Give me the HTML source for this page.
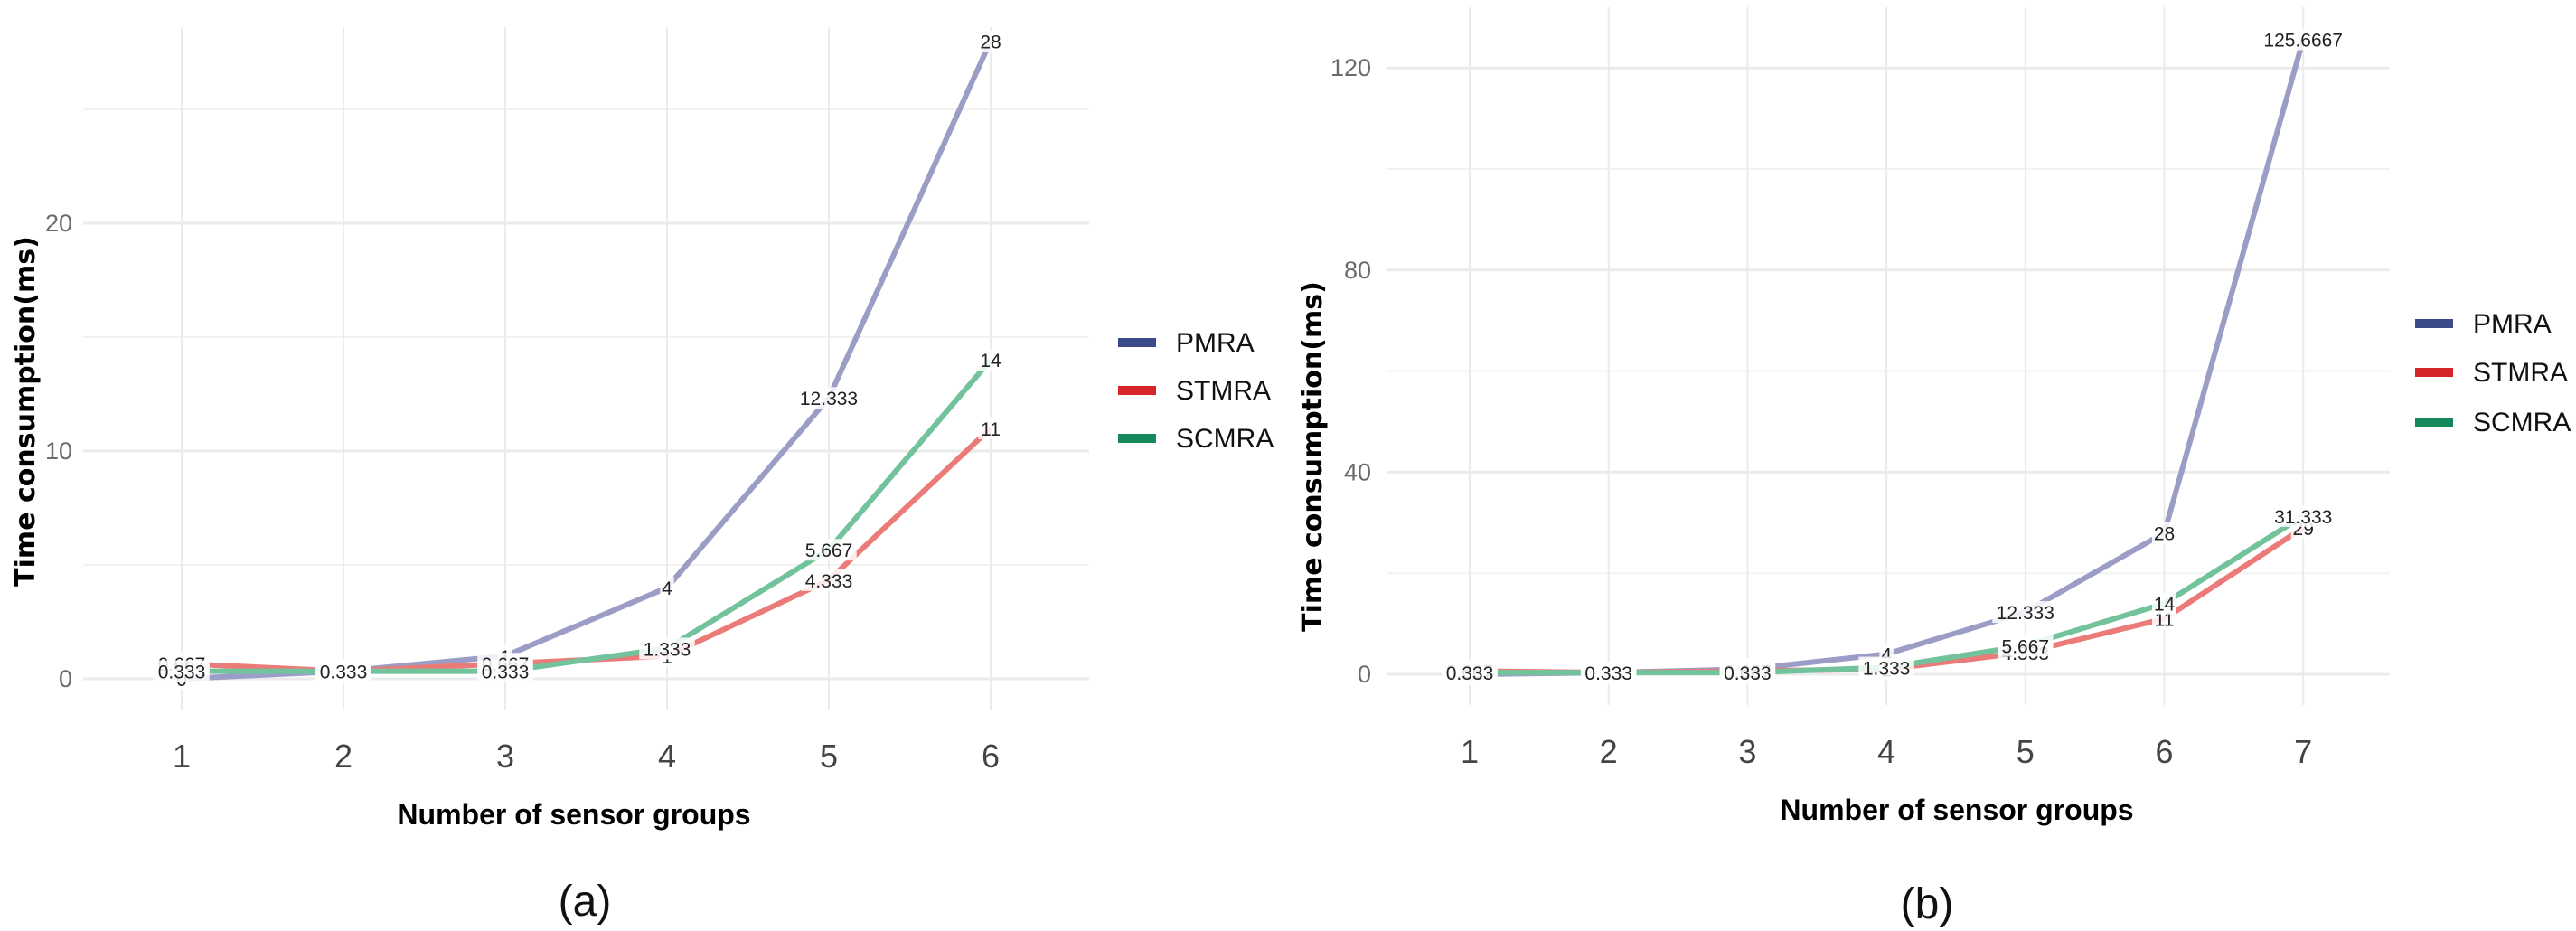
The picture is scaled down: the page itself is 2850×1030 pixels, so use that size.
<!DOCTYPE html>
<html><head><meta charset="utf-8">
<style>
html,body{margin:0;padding:0;background:#fff;}
svg{display:block;}
</style></head>
<body>
<svg id="fig" width="2850" height="1030" viewBox="0 0 2850 1030" xmlns="http://www.w3.org/2000/svg"></svg>
<script>
// ---- Chart (a) data ----
const catsA = [1,2,3,4,5,6];
const pmraA = [0,0.333,1,4,12.333,28];
const stmraA = [0.667,0.333,0.667,1,4.333,11];
const scmraA = [0.333,0.333,0.333,1.333,5.667,14];
const yTicksA = [0,10,20];
const yMinorA = [5,15,25];
// ---- Chart (b) data ----
const catsB = [1,2,3,4,5,6,7];
const pmraB = [0,0.333,1,4,12.333,28,125.6667];
const stmraB = [0.667,0.333,0.667,1,4.333,11,29];
const scmraB = [0.333,0.333,0.333,1.333,5.667,14,31.333];
const yTicksB = [0,40,80,120];
const yMinorB = [20,60,100];
const seriesNames = ["PMRA","STMRA","SCMRA"];

const NS="http://www.w3.org/2000/svg";
const svg=document.getElementById('fig');
function mk(tag,attrs,parent){const e=document.createElementNS(NS,tag);for(const k in attrs)e.setAttribute(k,attrs[k]);(parent||svg).appendChild(e);return e;}
function fmt(v){return String(v);}

const lineCols=["#9b9dc6","#ea7b78","#72c29c"];
const keyCols=["#3b4b8a","#d6262c","#16875a"];

function drawChart(cfg){
  const g=mk('g',{});
  
  
  const xS=v=>cfg.x0+(v-cfg.cats[0])*cfg.dx;
  const yS=v=>cfg.y0-v*cfg.py;
  cfg.minor.forEach(t=>{const l=mk('line',{x1:cfg.gl,x2:cfg.gr,y1:yS(t),y2:yS(t),stroke:'#f2f2f2','stroke-width':2},g);
    });
  cfg.ticks.forEach(t=>{const l=mk('line',{x1:cfg.gl,x2:cfg.gr,y1:yS(t),y2:yS(t),stroke:'#ebebeb','stroke-width':3},g);
    
    const tx=mk('text',{x:cfg.tickX,y:yS(t)+9,'text-anchor':'end','font-family':'Liberation Sans Narrow, Liberation Sans, sans-serif','font-size':27,fill:'#6b6b6b'},g);
    tx.textContent=t;});
  cfg.cats.forEach(c=>{const l=mk('line',{x1:xS(c),x2:xS(c),y1:cfg.gt,y2:cfg.gb,stroke:'#ebebeb','stroke-width':2},g);
    
    const tx=mk('text',{x:xS(c),y:cfg.xTickY+12,'text-anchor':'middle','font-family':'Liberation Sans Narrow, Liberation Sans, sans-serif','font-size':36,fill:'#444'},g);
    tx.textContent=c;});
  cfg.series.forEach((s,i)=>{
    const d=s.map((v,j)=>(j?'L':'M')+xS(cfg.cats[j]).toFixed(1)+','+yS(v).toFixed(1)).join(' ');
    const p=mk('path',{d:d,fill:'none',stroke:lineCols[i],'stroke-width':6,'stroke-linejoin':'round'},g);
    
  });
  cfg.series.forEach((s,i)=>{
    s.forEach((v,j)=>{
      const x=xS(cfg.cats[j]),y=yS(v);const t=fmt(v);const w=t.length*11.5+4;
      const r=mk('rect',{x:x-w/2,y:y-12,width:w,height:24,fill:'#fff','fill-opacity':0.85},g);
      
      const tx=mk('text',{x:x,y:y+8,'text-anchor':'middle','font-family':'Liberation Sans, sans-serif','font-size':21,fill:'#222'},g);
      tx.textContent=t;
    });
  });
  const yt=mk('text',{x:0,y:0,transform:`translate(${cfg.yTitleX},${cfg.yTitleY}) rotate(-90)`,'text-anchor':'middle','font-family':'DejaVu Sans, Liberation Sans, sans-serif','font-weight':'bold','font-size':30,fill:'#000'},g);
  yt.textContent='Time consumption(ms)';
  const xt=mk('text',{x:cfg.xTitleX,y:cfg.xTitleY+10,'text-anchor':'middle','font-family':'Liberation Sans Narrow, Liberation Sans, sans-serif','font-weight':'bold','font-size':32,fill:'#000'},g);
  xt.textContent='Number of sensor groups';
  const cap=mk('text',{x:cfg.capX,y:cfg.capY+16,'text-anchor':'middle','font-family':'Liberation Sans, sans-serif','font-size':48,fill:'#111'},g);
  cap.textContent=cfg.cap;
  seriesNames.forEach((n,i)=>{
    const y=cfg.legY[i];
    const k=mk('rect',{x:cfg.legX,y:y-5,width:42,height:10,fill:keyCols[i]},g);
    
    const tx=mk('text',{x:cfg.legX+64,y:y+10,'font-family':'Liberation Sans Narrow, Liberation Sans, sans-serif','font-size':30,fill:'#111'},g);
    tx.textContent=n;
  });
}

drawChart({name:'chart-a',cats:catsA,series:[pmraA,stmraA,scmraA],ticks:yTicksA,minor:yMinorA,
  x0:201,dx:179,y0:751,py:25.2,gl:92,gr:1205,gt:30,gb:785,tickX:80,xTickY:837,
  yTitleX:38,yTitleY:455,xTitleX:635,xTitleY:902,capX:647,capY:997,cap:'(a)',
  legX:1237,legY:[379,432,485]});
drawChart({name:'chart-b',cats:catsB,series:[pmraB,stmraB,scmraB],ticks:yTicksB,minor:yMinorB,
  x0:1626,dx:153.7,y0:746,py:5.59,gl:1535,gr:2644,gt:8,gb:780,tickX:1517,xTickY:832,
  yTitleX:1462,yTitleY:505,xTitleX:2165,xTitleY:897,capX:2132,capY:1000,cap:'(b)',
  legX:2672,legY:[358,412,467]});
</script>
</body></html>
